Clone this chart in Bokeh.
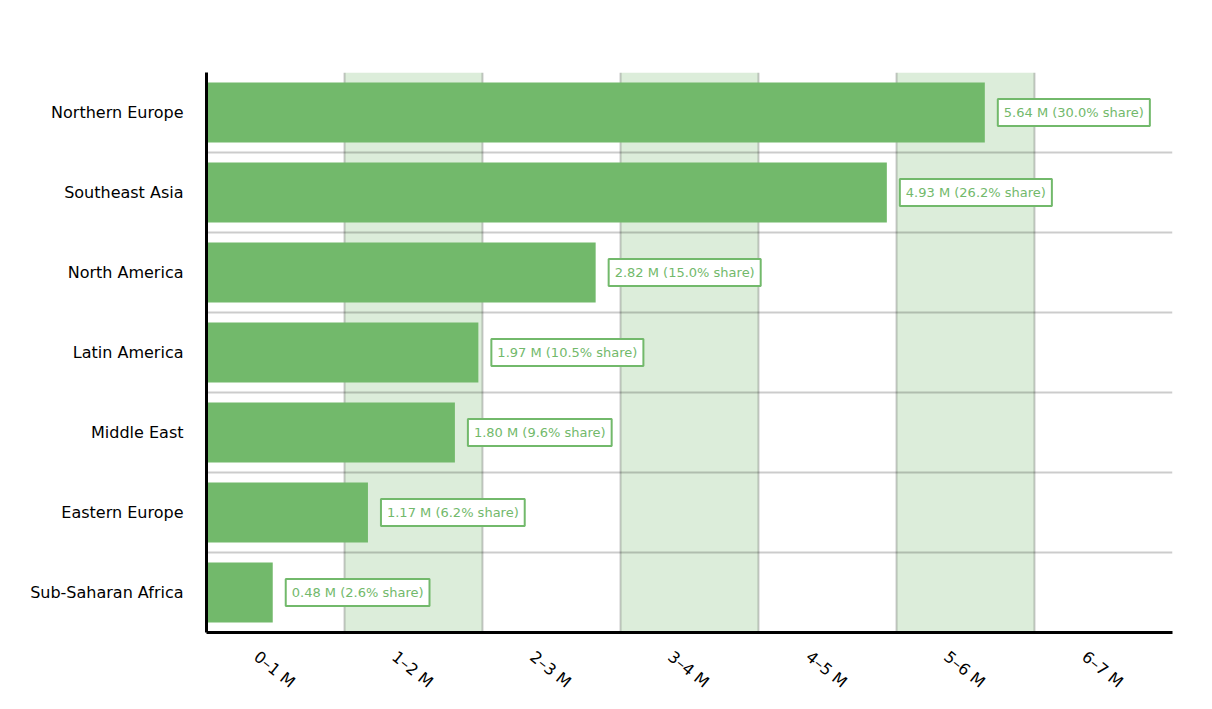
from bokeh.plotting import figure
from bokeh.models import ColumnDataSource, FixedTicker
from bokeh.core.properties import value
from bokeh.embed import file_html
from bokeh.resources import INLINE

# data, top row first
regions = ["Northern Europe", "Southeast Asia", "North America", "Latin America",
           "Middle East", "Eastern Europe", "Sub-Saharan Africa"]
values = [5.64, 4.93, 2.82, 1.97, 1.80, 1.17, 0.48]
bins = ["0–1 M", "1–2 M", "2–3 M", "3–4 M", "4–5 M", "5–6 M", "6–7 M"]

green = "#72b96b"
total = sum(values)
n = len(regions)

ypos = [n - i - 0.5 for i in range(n)]
labels = ["%.2f M (%.1f%% share)" % (v, 100 * v / total) for v in values]
source = ColumnDataSource(dict(y=ypos, value=values, region=regions, label=labels))

p = figure(
    width=1212, height=709,
    x_range=(0, len(bins)), y_range=(0, n),
    output_backend="svg", toolbar_location=None, tools="",
    min_border_left=206, min_border_right=40, min_border_top=72, min_border_bottom=77,
)
p.outline_line_color = None

p.hbar(y="y", left=0, right="value", height=0.75, source=source,
       fill_color=green, line_color=None)

# value labels in a white box with green border
p.text(x="value", y="y", text="label", source=source,
       x_offset=13, text_align="left", text_baseline="middle",
       text_color=green, text_font_size="13px", text_font=value("DejaVu Sans"),
       background_fill_color="white", border_line_color=green,
       border_line_width=2, padding=6)

# grid: vertical lines at bin edges with alternate bands, horizontal lines between rows
p.xgrid.ticker = FixedTicker(ticks=list(range(len(bins))))
p.xgrid.grid_line_color = "black"
p.xgrid.grid_line_alpha = 0.2
p.xgrid.grid_line_width = 2
p.xgrid.band_fill_color = green
p.xgrid.band_fill_alpha = 0.25
p.ygrid.ticker = FixedTicker(ticks=list(range(1, n)))
p.ygrid.grid_line_color = "black"
p.ygrid.grid_line_alpha = 0.2
p.ygrid.grid_line_width = 2

# rotated labels start at the tick, so nudge ticks left to centre them under each bin
xt = [i + 0.5 - 0.14 for i in range(len(bins))]
p.xaxis.ticker = FixedTicker(ticks=xt)
p.xaxis.major_label_overrides = {t: b for t, b in zip(xt, bins)}
p.xaxis.major_label_orientation = -0.68
p.xaxis.major_label_standoff = 16
p.yaxis.ticker = FixedTicker(ticks=ypos)
p.yaxis.major_label_overrides = {y: r for y, r in zip(ypos, regions)}
p.yaxis.major_label_standoff = 17

for ax in (p.xaxis, p.yaxis):
    ax.axis_line_color = "black"
    ax.axis_line_width = 3
    ax.major_tick_line_color = None
    ax.minor_tick_line_color = None
    ax.major_label_text_color = "black"
    ax.major_label_text_font = "DejaVu Sans"
    ax.major_label_text_font_size = "16px"

open("out.html", "w").write(file_html(p, INLINE))
